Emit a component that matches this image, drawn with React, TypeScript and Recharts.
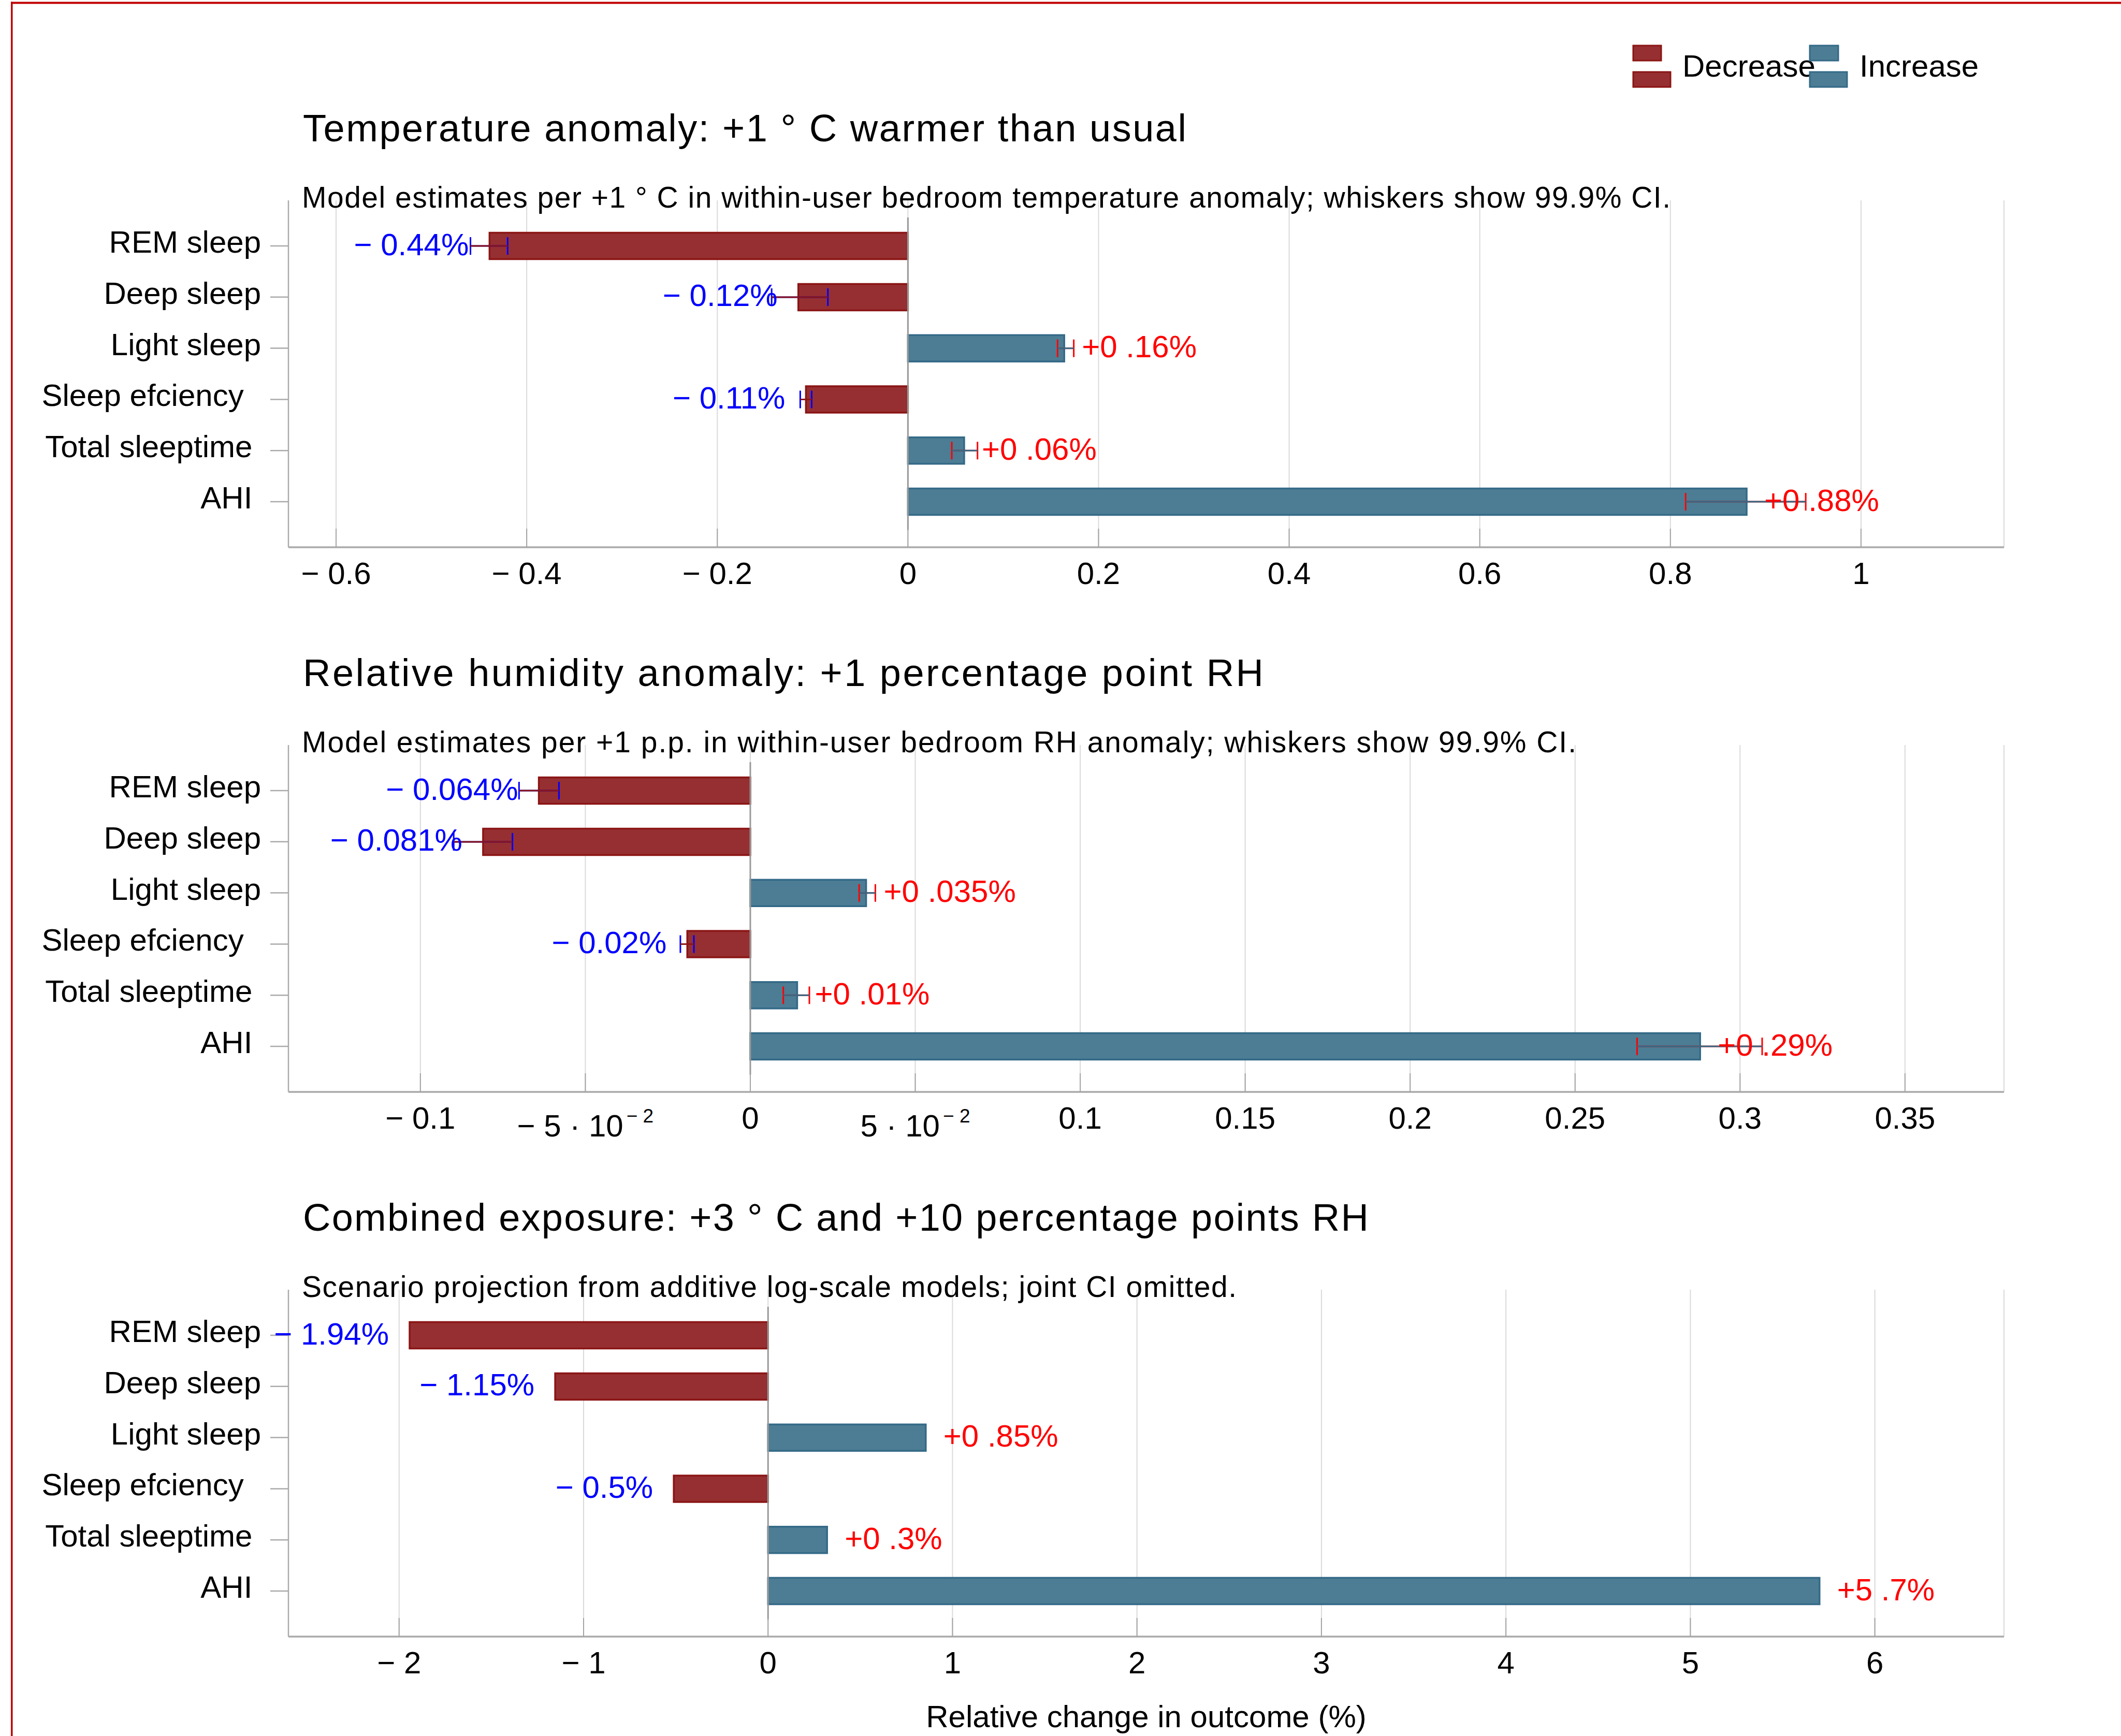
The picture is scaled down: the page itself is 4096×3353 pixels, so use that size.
import React from "react"
import { Bar, BarChart, CartesianGrid, ErrorBar, LabelList, ReferenceLine, XAxis, YAxis } from "recharts"

const FONT = "'Liberation Sans', Arial, Helvetica, sans-serif"

// outcomes, top to bottom
const CATEGORIES = ["REM sleep", "Deep sleep", "Light sleep", "Sleep efciency", "Total sleeptime", "AHI"]

// panel 1: +1 °C temperature anomaly (estimate + 99.9% CI)
const TEMP_EST = [-0.439, -0.115, 0.164, -0.107, 0.059, 0.88]
const TEMP_LO = [-0.459, -0.143, 0.157, -0.113, 0.046, 0.816]
const TEMP_HI = [-0.42, -0.084, 0.174, -0.101, 0.073, 0.942]
const TEMP_LABELS = ["− 0.44%", "− 0.12%", "+0 .16%", "− 0.11%", "+0 .06%", "+0 .88%"]
const TEMP_TICKS = [-0.6, -0.4, -0.2, 0, 0.2, 0.4, 0.6, 0.8, 1]
const TEMP_TICK_LABELS = ["− 0.6", "− 0.4", "− 0.2", "0", "0.2", "0.4", "0.6", "0.8", "1"]

// panel 2: +1 p.p. relative humidity anomaly
const RH_EST = [-0.0641, -0.081, 0.0351, -0.0191, 0.0142, 0.2879]
const RH_LO = [-0.0701, -0.0899, 0.033, -0.0212, 0.01, 0.2688]
const RH_HI = [-0.058, -0.0721, 0.0379, -0.0171, 0.0179, 0.3067]
const RH_LABELS = ["− 0.064%", "− 0.081%", "+0 .035%", "− 0.02%", "+0 .01%", "+0 .29%"]
const RH_TICKS = [-0.1, -0.05, 0, 0.05, 0.1, 0.15, 0.2, 0.25, 0.3, 0.35]
const RH_TICK_LABELS = ["− 0.1", "− 5 · 10^− 2", "0", "5 · 10^− 2", "0.1", "0.15", "0.2", "0.25", "0.3", "0.35"]

// panel 3: combined scenario, no CI
const COMBO_EST = [-1.943, -1.154, 0.855, -0.511, 0.32, 5.7]
const COMBO_LABELS = ["− 1.94%", "− 1.15%", "+0 .85%", "− 0.5%", "+0 .3%", "+5 .7%"]
const COMBO_TICKS = [-2, -1, 0, 1, 2, 3, 4, 5, 6]
const COMBO_TICK_LABELS = ["− 2", "− 1", "0", "1", "2", "3", "4", "5", "6"]

const AXIS_TITLE = "Relative change in outcome (%)"

const DEC_FILL = "#962f31"
const DEC_EDGE = "#8b1515"
const INC_FILL = "#4c7d94"
const INC_EDGE = "#346a87"
const NEG_TEXT = "#0000ff"
const POS_TEXT = "#ff0000"
const AXIS_GREY = "#aaaaaa"

// layout (px)
const PANEL_STEP = 1052
const PLOT_TOP = 387
const PLOT_H = 670
const PLOT_LEFT = 557
const PLOT_RIGHT = 226

// trailing gaps the original renderer left after some tick labels
const TICK_PAD: Record<string, number> = { AHI: 1, "Total sleeptime": 1, "Sleep efciency": 2 }

type Panel = {
    title: string
    subtitle: string
    titleWidth: number
    subtitleWidth: number
    est: number[]
    lo?: number[]
    hi?: number[]
    labels: string[]
    ticks: number[]
    tickLabels: string[]
    domain: [number, number]
}

const PANELS: Panel[] = [
    {
        title: "Temperature anomaly: +1 ° C warmer than usual",
        subtitle: "Model estimates per +1 ° C in within-user bedroom temperature anomaly; whiskers show 99.9% CI.",
        titleWidth: 1706,
        subtitleWidth: 2643,
        est: TEMP_EST,
        lo: TEMP_LO,
        hi: TEMP_HI,
        labels: TEMP_LABELS,
        ticks: TEMP_TICKS,
        tickLabels: TEMP_TICK_LABELS,
        domain: [-0.65, 1.15]
    },
    {
        title: "Relative humidity anomaly: +1 percentage point RH",
        subtitle: "Model estimates per +1 p.p. in within-user bedroom RH anomaly; whiskers show 99.9% CI.",
        titleWidth: 1855,
        subtitleWidth: 2461,
        est: RH_EST,
        lo: RH_LO,
        hi: RH_HI,
        labels: RH_LABELS,
        ticks: RH_TICKS,
        tickLabels: RH_TICK_LABELS,
        domain: [-0.14, 0.38]
    },
    {
        title: "Combined exposure: +3 ° C and +10 percentage points RH",
        subtitle: "Scenario projection from additive log-scale models; joint CI omitted.",
        titleWidth: 2058,
        subtitleWidth: 1805,
        est: COMBO_EST,
        labels: COMBO_LABELS,
        ticks: COMBO_TICKS,
        tickLabels: COMBO_TICK_LABELS,
        domain: [-2.6, 6.7]
    }
]

function buildRows(p: Panel) {
    return CATEGORIES.map((name, i) => {
        const v = p.est[i]
        const neg = v < 0
        const err = p.lo && p.hi ? [v - p.lo[i], p.hi[i] - v] : undefined
        return {
            name,
            dec: neg ? v : undefined,
            inc: neg ? undefined : v,
            decErr: neg ? err : undefined,
            incErr: neg ? undefined : err,
            decLabel: neg ? p.labels[i] : undefined,
            incLabel: neg ? undefined : p.labels[i]
        }
    })
}

const makeXTick = (p: Panel) => (props: any) => {
    const { x, y, payload } = props
    const idx = p.ticks.findIndex(t => Math.abs(t - payload.value) < 1e-9)
    const raw = idx >= 0 ? p.tickLabels[idx] : String(payload.value)
    const [main, sup] = raw.split("^")
    return (
        <g>
            <line x1={x} x2={x} y1={y} y2={y - 36} stroke="#a4a4a4" strokeWidth={2} />
            <text x={x} y={y + (sup ? 86 : 71)} textAnchor="middle" fontSize={60} fontFamily={FONT} fill="#000">
                {main}
                {sup && (
                    <tspan fontSize={37} dx={6} dy={-27}>
                        {sup}
                    </tspan>
                )}
            </text>
        </g>
    )
}

const renderYTick = (props: any) => {
    const { x, y, payload } = props
    const pad = "\u00a0".repeat(TICK_PAD[payload.value] ?? 0)
    return (
        <text x={x} y={y + 13} textAnchor="end" fontSize={60} fontFamily={FONT} fill="#000">
            {payload.value + pad}
        </text>
    )
}

const makeValueLabel = (side: "left" | "right", color: string) => (props: any) => {
    const { value } = props
    if (value === undefined || value === null || value === "") return null
    const vb = props.viewBox ?? props
    const { x, y, width, height } = vb
    if (typeof x !== "number" || typeof width !== "number") return null
    const left = Math.min(x, x + width)
    const right = Math.max(x, x + width)
    const cy = y + height / 2
    return (
        <text
            x={side === "left" ? left - 40 : right + 34}
            y={cy + 17.5}
            textAnchor={side === "left" ? "end" : "start"}
            fontSize={60}
            fontFamily={FONT}
            fill={color}
        >
            {value}
        </text>
    )
}

const ZeroLine = (props: any) => {
    const { x1, x2, y1, y2 } = props
    if (typeof y1 !== "number" || typeof y2 !== "number") return <g />
    return (
        <line
            x1={x1}
            x2={x2}
            y1={Math.min(y1, y2) + 33}
            y2={Math.max(y1, y2) - 33}
            stroke="#999999"
            strokeWidth={3}
        />
    )
}

function PanelChart({ panel, index }: { panel: Panel; index: number }) {
    const rows = buildRows(panel)
    const last = index === PANELS.length - 1
    const axisH = last ? 200 : 100
    const height = PLOT_TOP + PLOT_H + axisH

    return (
        <div style={{ position: "absolute", left: 0, top: index * PANEL_STEP }}>
            <BarChart
                layout="vertical"
                width={4096}
                height={height}
                data={rows}
                margin={{ top: PLOT_TOP, right: PLOT_RIGHT, bottom: 0, left: 0 }}
                barSize={51}
            >
                <CartesianGrid horizontal={false} stroke="#dadada" strokeWidth={2} />
                <XAxis
                    type="number"
                    domain={panel.domain}
                    allowDataOverflow
                    ticks={panel.ticks}
                    interval={0}
                    tickSize={0}
                    tickMargin={0}
                    tickLine={false}
                    axisLine={{ stroke: AXIS_GREY, strokeWidth: 3.5 }}
                    tick={makeXTick(panel)}
                    height={axisH}
                    label={
                        last
                            ? {
                                  value: AXIS_TITLE,
                                  position: "insideBottom",
                                  offset: 25,
                                  fontSize: 60,
                                  fill: "#000",
                                  fontFamily: FONT
                              }
                            : undefined
                    }
                />
                <YAxis
                    type="category"
                    dataKey="name"
                    width={PLOT_LEFT}
                    interval={0}
                    padding={{ top: 38.6, bottom: 38.6 }}
                    tickSize={35}
                    tickMargin={18}
                    tickLine={{ stroke: AXIS_GREY, strokeWidth: 2.5 }}
                    axisLine={{ stroke: AXIS_GREY, strokeWidth: 2.5 }}
                    tick={renderYTick}
                />
                <ReferenceLine x={0} stroke="#999999" strokeWidth={3} shape={ZeroLine} />
                <Bar dataKey="dec" stackId="s" fill={DEC_FILL} stroke={DEC_EDGE} strokeWidth={3.5} isAnimationActive={false}>
                    <ErrorBar dataKey="decErr" direction="x" width={17} stroke={NEG_TEXT} strokeWidth={3} isAnimationActive={false} />
                    <ErrorBar dataKey="decErr" direction="x" width={0} stroke={DEC_EDGE} strokeWidth={3} isAnimationActive={false} />
                    <LabelList dataKey="decLabel" content={makeValueLabel("left", NEG_TEXT)} />
                </Bar>
                <Bar dataKey="inc" stackId="s" fill={INC_FILL} stroke={INC_EDGE} strokeWidth={3.5} isAnimationActive={false}>
                    <ErrorBar dataKey="incErr" direction="x" width={17} stroke={POS_TEXT} strokeWidth={3} isAnimationActive={false} />
                    <ErrorBar dataKey="incErr" direction="x" width={0} stroke={INC_EDGE} strokeWidth={3} isAnimationActive={false} />
                    <LabelList dataKey="incLabel" content={makeValueLabel("right", POS_TEXT)} />
                </Bar>
            </BarChart>
        </div>
    )
}

export default function App() {
    return (
        <div
            style={{
                position: "absolute",
                left: 0,
                top: 0,
                width: 4096,
                height: 3353,
                overflow: "hidden",
                background: "#fff",
                fontFamily: FONT
            }}
        >
            {PANELS.map((panel, i) => (
                <PanelChart key={panel.title} panel={panel} index={i} />
            ))}
            <svg
                width={4096}
                height={3353}
                style={{ position: "absolute", left: 0, top: 0, pointerEvents: "none" }}
                fontFamily={FONT}
            >
                <rect x={21} y={3.5} width={3.5} height={3350} fill="#c00000" />
                <rect x={21} y={3.5} width={4075} height={4} fill="#c00000" />

                {PANELS.map((panel, i) => (
                    <g key={panel.title}>
                        <text x={585} y={273 + i * PANEL_STEP} fontSize={74} fill="#000" textLength={panel.titleWidth} lengthAdjust="spacing">
                            {panel.title}
                        </text>
                        <text x={583} y={401 + i * PANEL_STEP} fontSize={57} fill="#000" textLength={panel.subtitleWidth} lengthAdjust="spacing">
                            {panel.subtitle}
                        </text>
                    </g>
                ))}

                {/* legend */}
                <rect x={3154} y={88} width={54} height={29} fill={DEC_FILL} stroke={DEC_EDGE} strokeWidth={3} />
                <rect x={3154} y={139} width={72} height={29} fill={DEC_FILL} stroke={DEC_EDGE} strokeWidth={3} />
                <text x={3249} y={148} fontSize={60} fill="#000">
                    Decrease
                </text>
                <rect x={3495} y={88} width={55} height={29} fill={INC_FILL} stroke={INC_EDGE} strokeWidth={3} />
                <rect x={3495} y={139} width={72} height={29} fill={INC_FILL} stroke={INC_EDGE} strokeWidth={3} />
                <text x={3591} y={148} fontSize={60} fill="#000">
                    Increase
                </text>
            </svg>
        </div>
    )
}
